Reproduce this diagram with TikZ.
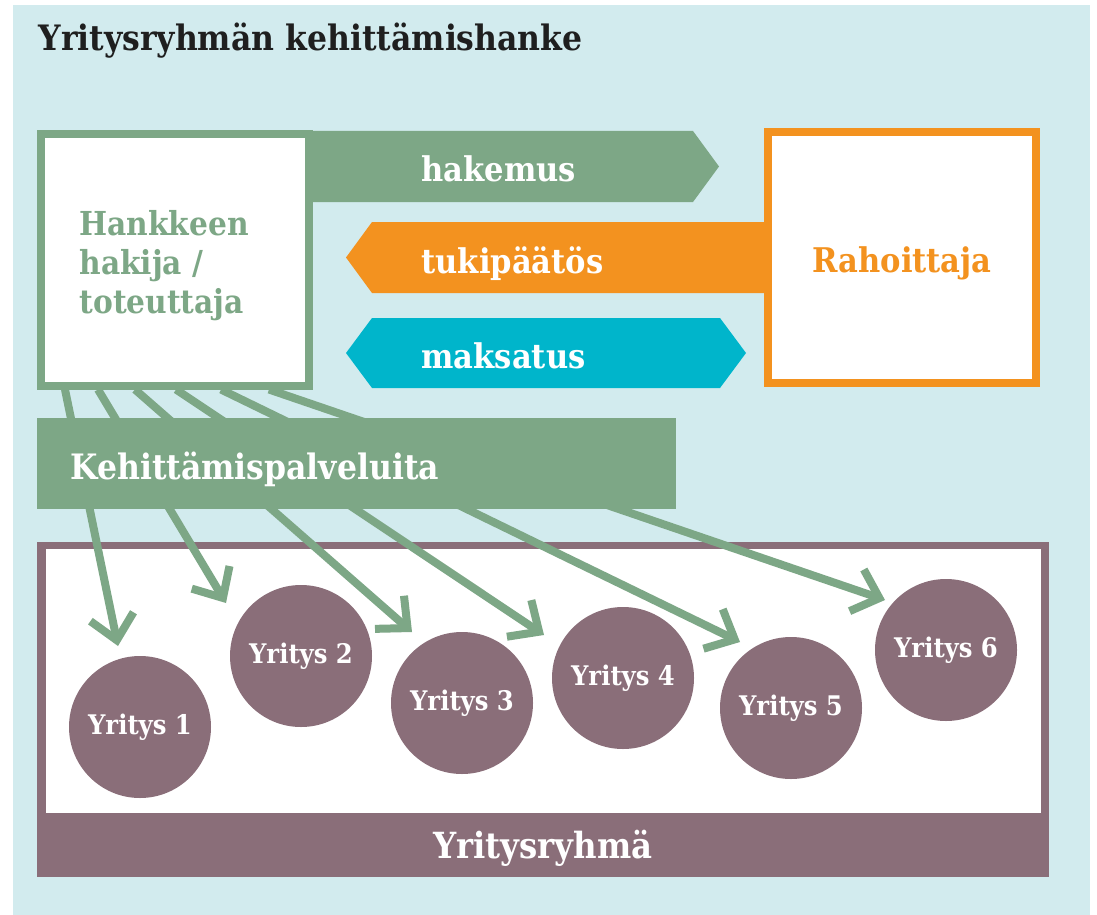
\documentclass[tikz,border=0pt]{standalone}
\usepackage{fontspec}
\setmainfont{DejaVu Serif Condensed}
\usepackage{xcolor}
\usetikzlibrary{arrows.meta,positioning}
\definecolor{tausta}{RGB}{210,235,238}
\definecolor{vihrea}{RGB}{125,167,134}
\definecolor{oranssi}{RGB}{243,146,31}
\definecolor{turkoosi}{RGB}{0,181,203}
\definecolor{violetti}{RGB}{138,110,121}

\begin{document}
\begin{tikzpicture}[x=1pt,y=-1pt,
    kehys/.style={line width=8pt, fill=white, minimum width=268pt, minimum height=251pt, inner sep=0pt},
    iso/.style={font=\bfseries\fontsize{34}{38}\selectfont},
    yritys/.style={circle, fill=violetti, minimum size=142pt, inner sep=0pt, text=white, font=\bfseries\fontsize{27}{30}\selectfont},
    palvelu/.style={draw=vihrea, line width=8pt, -{Straight Barb[length=24pt,width=44pt]}}]
  \useasboundingbox (0,0) rectangle (1097,915);
  \fill[tausta] (13,5) rectangle (1090,915);
  \node[anchor=base west, text=black!88, font=\bfseries\fontsize{35}{38}\selectfont] (otsikko) at (35,51) {Yritysryhmän kehittämishanke};

  \fill[vihrea] (312,131) -- (693,131) -- (719,166.5) -- (693,202) -- (312,202) -- cycle;
  \fill[oranssi] (765,222) -- (372,222) -- (346,257.5) -- (372,293) -- (765,293) -- cycle;
  \fill[turkoosi] (372,318) -- (720,318) -- (746,353) -- (720,388) -- (372,388) -- (346,353) -- cycle;

  \node[kehys, draw=vihrea] (hanke) at (175,260) {};
  \node[anchor=base west, align=left, text=vihrea, font=\bfseries\fontsize{33}{39}\selectfont] (hanketxt) at (76,313) {Hankkeen\\hakija /\\toteuttaja};
  \node[kehys, draw=oranssi, text=oranssi, text height=29pt, text depth=0pt, iso] (rahoittaja) at (902,257.5) {Rahoittaja};
  \node[anchor=base west, text=white, iso] (hakemus) at (418,181) {hakemus};
  \node[anchor=base west, text=white, iso] (tukipaatos) at (418,273) {tukipäätös};
  \node[anchor=base west, text=white, iso] (maksatus) at (418,368) {maksatus};

  \node[fill=violetti, minimum width=1012pt, minimum height=335pt, anchor=north west, inner sep=0pt] (ryhma) at (37,542) {};
  \fill[white] ([xshift=9pt,yshift=-7pt]ryhma.north west) rectangle ([xshift=-8pt,yshift=64pt]ryhma.south east);
  \node[anchor=base, text=white, font=\bfseries\fontsize{36}{40}\selectfont] (ryhmatxt) at (543,858) {Yritysryhmä};

  \node[yritys] (y1) at (140,727) {Yritys 1};
  \node[yritys] (y2) at (301,656) {Yritys 2};
  \node[yritys] (y3) at (462,703) {Yritys 3};
  \node[yritys] (y4) at (623,678) {Yritys 4};
  \node[yritys] (y5) at (791,708) {Yritys 5};
  \node[yritys] (y6) at (946,650) {Yritys 6};

  \foreach \dx/\kx/\ky [count=\i] in {28/118/646, 61/226/603, 98/412/632, 139/544/635, 184/740/642, 232/885/600}{
    \coordinate (karki\i) at (\kx,\ky);
    \draw[palvelu] ([xshift=\dx pt]hanke.south west) -- (karki\i);
  }

  \node[fill=vihrea, minimum width=639pt, minimum height=91pt, anchor=north west, inner sep=0pt] (palvelut) at (37,418) {};
  \node[anchor=base west, text=white, font=\bfseries\fontsize{35}{38}\selectfont] (palveluttxt) at (67,479) {Kehittämispalveluita};
\end{tikzpicture}
\end{document}
